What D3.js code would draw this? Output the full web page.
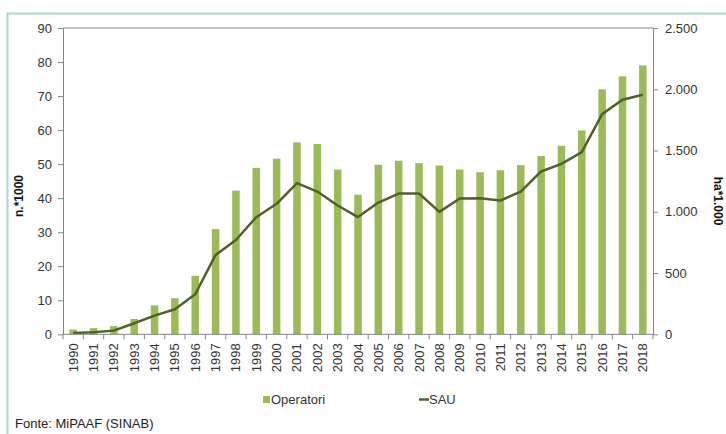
<html><head>
<script src="https://cdnjs.cloudflare.com/ajax/libs/d3/7.8.5/d3.min.js"></script>
<style>
  body { margin: 0; background: #fff; font-family: Arial, "Liberation Sans", sans-serif; }
  svg text { font-family: Arial, "Liberation Sans", sans-serif; }
</style>
</head>
<body>
<svg id="chart" width="726" height="434"></svg>
<script>
const years = ["1990","1991","1992","1993","1994","1995","1996","1997","1998","1999",
  "2000","2001","2002","2003","2004","2005","2006","2007","2008","2009",
  "2010","2011","2012","2013","2014","2015","2016","2017","2018"];
// operatori, n.*1000 (left axis)
const operatori = [1.4, 1.8, 2.4, 4.5, 8.5, 10.6, 17.2, 30.9, 42.2, 48.9,
  51.6, 56.4, 55.9, 48.4, 41.0, 49.8, 51.0, 50.3, 49.6, 48.4,
  47.6, 48.2, 49.7, 52.4, 55.4, 59.9, 72.0, 75.8, 79.0];
// SAU, ha*1.000 (right axis)
const sau = [11, 16, 30, 90, 152, 204, 327, 648, 770, 956,
  1065, 1234, 1165, 1051, 957, 1075, 1149, 1149, 999, 1108,
  1111, 1092, 1165, 1329, 1391, 1487, 1797, 1914, 1955];
const leftTicks = [0, 10, 20, 30, 40, 50, 60, 70, 80, 90];
const rightTicks = [0, 500, 1000, 1500, 2000, 2500];

const svg = d3.select("#chart");
const m = {left: 63, right: 653, top: 28, bottom: 334.3};
const axisColor = "#868686";
const textColor = "#333";

// outer frame
svg.append("rect")
  .attr("x", 7.5).attr("y", 13.5).attr("width", 740).attr("height", 440)
  .attr("fill", "none").attr("stroke", "#a6dccb").attr("stroke-width", 2);

const x = d3.scaleBand().domain(years).range([m.left, m.right]).paddingInner(0.63).paddingOuter(0.315);
const xb = d3.scaleBand().domain(years).range([m.left, m.right]);
const yL = d3.scaleLinear().domain([0, 90]).range([m.bottom, m.top]);
const yR = d3.scaleLinear().domain([0, 2500]).range([m.bottom, m.top]);
const it = d3.formatLocale({decimal: ",", thousands: ".", grouping: [3], currency: ["€", ""]});
const fmt = it.format(",d");

// top border line of plot
svg.append("line").attr("x1", m.left).attr("x2", m.right).attr("y1", m.top).attr("y2", m.top)
  .attr("stroke", axisColor).attr("stroke-width", 1);

// bars
svg.append("g").selectAll("rect").data(operatori).join("rect")
  .attr("x", (d, i) => x(years[i]))
  .attr("width", x.bandwidth())
  .attr("y", d => yL(d))
  .attr("height", d => yL(0) - yL(d))
  .attr("fill", "#9bbb59");

// SAU line
const line = d3.line()
  .x((d, i) => xb(years[i]) + xb.bandwidth() / 2)
  .y(d => yR(d));
svg.append("path").datum(sau).attr("d", line)
  .attr("fill", "none").attr("stroke", "#4f6228").attr("stroke-width", 2.5)
  .attr("stroke-linejoin", "round");

function styleAxis(g) {
  g.selectAll(".domain, .tick line").attr("stroke", axisColor);
  g.selectAll("text").attr("fill", textColor).style("font-size", "13px");
}

// left axis
svg.append("g").attr("transform", `translate(${m.left},0)`)
  .call(d3.axisLeft(yL).tickValues(leftTicks).tickSize(5).tickSizeOuter(0).tickPadding(6))
  .call(styleAxis);

// right axis
svg.append("g").attr("transform", `translate(${m.right},0)`)
  .call(d3.axisRight(yR).tickValues(rightTicks).tickFormat(fmt).tickSize(5).tickSizeOuter(0).tickPadding(7))
  .call(styleAxis);

// bottom axis with ticks between categories
const gx = svg.append("g").attr("transform", `translate(0,${m.bottom})`);
gx.append("line").attr("x1", m.left).attr("x2", m.right).attr("stroke", axisColor);
gx.selectAll(".sep").data(years.concat(["end"])).join("line")
  .attr("x1", (d, i) => m.left + i * xb.step()).attr("x2", (d, i) => m.left + i * xb.step())
  .attr("y1", 0).attr("y2", 5).attr("stroke", axisColor);
gx.selectAll(".yr").data(years).join("text")
  .attr("transform", d => `translate(${xb(d) + xb.bandwidth() / 2 + 4.5},9) rotate(-90)`)
  .attr("text-anchor", "end")
  .attr("fill", textColor).style("font-size", "13px")
  .text(d => d);

// axis titles
svg.append("text").attr("transform", "translate(23,196) rotate(-90)")
  .attr("text-anchor", "middle").style("font-size", "12px").style("font-weight", "bold")
  .attr("fill", "#111").text("n.*1000");
svg.append("text").attr("transform", "translate(714,201) rotate(90)")
  .attr("text-anchor", "middle").style("font-size", "12px").style("font-weight", "bold")
  .attr("fill", "#111").text("ha*1.000");

// legend
const leg = svg.append("g");
leg.append("rect").attr("x", 263).attr("y", 396).attr("width", 7).attr("height", 7).attr("fill", "#9bbb59");
leg.append("text").attr("x", 271).attr("y", 404).style("font-size", "13px").attr("fill", textColor).text("Operatori");
leg.append("line").attr("x1", 419).attr("x2", 429).attr("y1", 399.5).attr("y2", 399.5)
  .attr("stroke", "#4f6228").attr("stroke-width", 2.5);
leg.append("text").attr("x", 429).attr("y", 404).style("font-size", "13px").attr("fill", textColor).text("SAU");

// source
svg.append("text").attr("x", 15).attr("y", 428).style("font-size", "13px").attr("fill", "#222")
  .text("Fonte: MiPAAF (SINAB)");
</script>
</body></html>
